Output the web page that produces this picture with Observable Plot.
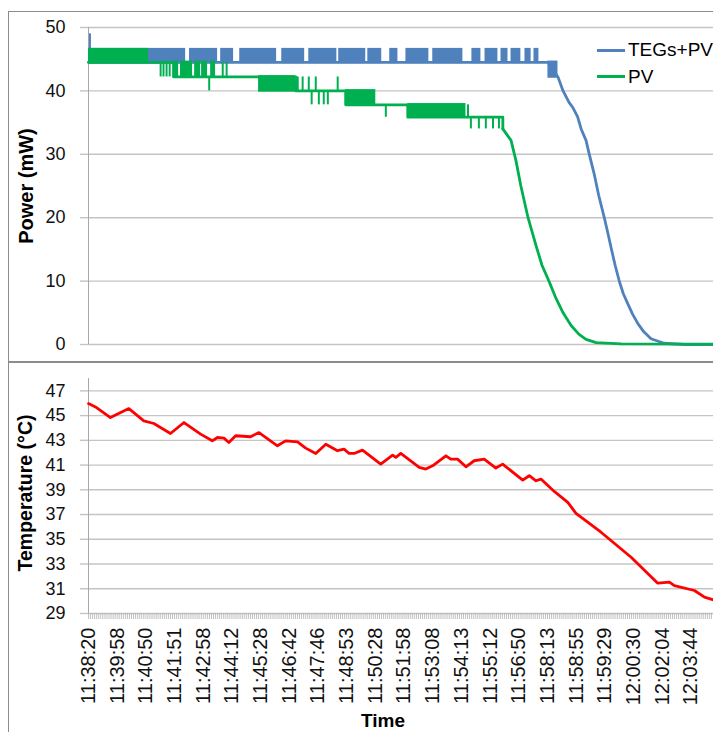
<!DOCTYPE html>
<html><head><meta charset="utf-8">
<script src="https://cdn.jsdelivr.net/npm/d3@7"></script>
<script src="https://cdn.jsdelivr.net/npm/@observablehq/plot@0.6"></script>
<style>
body{margin:0;background:#fff;font-family:"Liberation Sans",Arial,sans-serif;}
#wrap{position:relative;width:713px;height:732px;overflow:hidden;background:#fff;}
#top,#bot{position:absolute;left:0;}
#top{top:0;} #bot{top:362px;}
.frame{position:absolute;left:8px;border:1px solid #8c8c8c;border-right:none;pointer-events:none;}
.title{position:absolute;font-weight:bold;color:#000;white-space:nowrap;line-height:1;}
.rot{transform:translate(-50%,-50%) rotate(-90deg);}
.leg{position:absolute;font-size:19px;color:#000;white-space:nowrap;}
.legline{position:absolute;height:3px;width:28px;}
</style></head>
<body><div id="wrap">
<div id="top"></div><div id="bot"></div>
<div class="frame" style="top:11px;width:720px;height:350px;"></div>
<div class="frame" style="top:361px;width:720px;height:380px;border-bottom:none;"></div>
<div class="title rot" style="left:26px;top:186px;font-size:20px;">Power (mW)</div>
<div class="title rot" style="left:26px;top:493px;font-size:19.5px;">Temperature (°C)</div>
<div class="title" style="left:383px;top:720px;transform:translate(-50%,-50%);font-size:19px;">Time</div>
<div class="legline" style="left:597px;top:48.5px;background:#4F81BD;"></div>
<div class="leg" style="left:628px;top:39px;">TEGs+PV</div>
<div class="legline" style="left:597px;top:75px;background:#00B050;"></div>
<div class="leg" style="left:628px;top:65.5px;">PV</div>
</div>
<script>
// ---- category axis (sample index) ----
const nCat = 306;
const labelStep = 14;
const timeLabels = ["11:38:20","11:39:58","11:40:50","11:41:51","11:42:58","11:44:12","11:45:28","11:46:42","11:47:46","11:48:53","11:50:28","11:51:58","11:53:08","11:54:13","11:55:12","11:56:50","11:58:13","11:58:55","11:59:29","12:00:30","12:02:04","12:03:44"];
const powerTicks = [0,10,20,30,40,50];
const tempTicks = [29,31,33,35,37,39,41,43,45,47];

// ---- TEGs+PV (blue) ----
const blueIdx = [0, 224.2, 229.1, 231.6, 234.5, 236.5, 238.7, 240.4, 242.8, 244.3, 246.7, 249, 251.7, 253.5, 255, 257, 259.1, 261, 263.2, 265.5, 268.1, 271, 274.5, 280.9, 290.8, 305];
const blueVal = [44.5, 44.5, 42.2, 40.0, 38.2, 37.3, 35.9, 34.0, 32.2, 30.1, 27.0, 23.5, 20.0, 17.5, 15.3, 12.5, 9.9, 8.0, 6.4, 4.8, 3.3, 2.0, 0.9, 0.2, 0.0, 0.0];
// fast-oscillation stretches: [fromIdx, toIdx, low, high]
const blueBands = [[0,47.4,44.5,46.5],[49.3,63,44.5,46.5],[64.5,70.8,44.5,46.5],[73.8,91.8,44.5,46.5],[94.3,105.5,44.5,46.5],[107.5,121.2,44.5,46.5],[122.1,135.3,44.5,46.5],[136.3,143.1,44.5,46.5],[147,151,44.5,46.5],[154.9,166.1,44.5,46.5],[168,182.7,44.5,46.5],[187.1,191.5,44.5,46.5],[193.5,199.8,44.5,46.5],[201.3,204.7,44.5,46.5],[206.2,211,44.5,46.5],[213,216,44.5,46.5],[217.4,219.8,44.5,46.5],[224.2,229.1,42.2,44.5]];
// isolated spikes: [idx, from, to]
const blueSpikes = [[0.7,46.5,49.0]];

// ---- PV (green) ----
const greenFlatIdx = [0, 41.5, 101.1, 125.5, 155.8, 202.2];
const greenFlatVal = [44.5, 42.2, 40.0, 37.8, 35.85, 34.0];
const greenDropIdx = [202.2, 206.2, 208.6, 211, 214.5, 218.4, 221.3, 224.7, 228.1, 231.6, 235.5, 239.4, 242.8, 247.7, 259.9, 305];
const greenDropVal = [34.0, 32.2, 29.0, 25.0, 20.0, 15.6, 12.5, 10.0, 7.3, 5.0, 3.0, 1.6, 0.8, 0.3, 0.1, 0.05];
const greenBands = [[0,29.3,44.5,46.5],[41.5,44,42.2,44.5],[44.9,50.8,42.2,44.5],[51.8,54.7,42.2,44.5],[55.2,58.1,42.2,44.5],[59.6,62,42.2,44.5],[83,101.1,40.0,42.2],[125.5,140.2,37.8,40.0],[155.8,184.2,35.85,37.8]];
const greenSpikes = [[35.2,44.5,42.2],[36.6,44.5,42.2],[38.1,44.5,42.2],[39.6,44.5,42.2],[58.9,42.2,40.0],[65.5,42.2,44.5],[67.4,42.2,44.5],[102.1,40,42.2],[104.5,40,42.2],[107.5,40,42.2],[110.9,40,42.2],[121.6,40,42.2],[108.9,40,37.8],[112.4,40,37.8],[114.8,40,37.8],[116.8,40,37.8],[139.2,37.8,40],[145.1,37.8,35.85],[185.2,35.85,37.8],[186.6,35.85,34.0],[190.5,35.85,34.0],[193.9,35.85,34.0],[197.4,35.85,34.0],[200.3,35.85,34.0]];

// ---- Temperature (red) ----
const tempIdx = [0, 3.4, 10.7, 19.7, 27, 31.9, 40, 46.6, 54.7, 60.4, 62.9, 66.1, 68.5, 71.8, 79.1, 83.2, 92.2, 96.2, 102, 106, 110.9, 115.8, 121.5, 124.7, 127.2, 129.6, 133.7, 142.6, 148.4, 150, 152.4, 161.4, 164.6, 167.9, 174.4, 176.8, 180.1, 184.2, 188.2, 193.1, 198.8, 202.1, 211.9, 215.1, 218.4, 220.8, 227.3, 233.9, 237.9, 250.1, 264.8, 277.8, 283.5, 285.9, 295.7, 300.6, 305];
const tempVal = [45.97, 45.7, 44.84, 45.57, 44.58, 44.36, 43.55, 44.44, 43.5, 42.96, 43.23, 43.18, 42.83, 43.37, 43.29, 43.63, 42.56, 42.96, 42.88, 42.37, 41.94, 42.69, 42.16, 42.29, 41.94, 41.94, 42.21, 41.08, 41.81, 41.62, 41.94, 40.81, 40.68, 40.94, 41.75, 41.48, 41.48, 40.86, 41.35, 41.48, 40.76, 41.08, 39.79, 40.14, 39.73, 39.87, 38.87, 37.98, 37.1, 35.57, 33.55, 31.45, 31.53, 31.26, 30.86, 30.32, 30.1];

const BLUE = "#4F81BD", GREEN = "#00B050", RED = "#FF0000", GRID = "#c4c4c4", AXIS = "#a8a8a8";
const zip = (xs, ys) => xs.map((x, i) => ({x, y: ys[i]}));
const font = '"Liberation Sans", Arial, sans-serif';

const bandOpts = c => ({x1: d => d[0], x2: d => d[1], y1: d => d[2], y2: d => d[3], fill: c, insetTop: -1.3, insetBottom: -1.3});
const spikeOpts = c => ({x: d => d[0], y1: d => d[1], y2: d => d[2], stroke: c, strokeWidth: 2});

const topChart = Plot.plot({
  width: 713, height: 362,
  marginLeft: 88, marginRight: 0, marginTop: 27, marginBottom: 18,
  style: {background: "transparent", fontFamily: font, overflow: "visible", color: "#000"},
  x: {domain: [0, nCat - 1], axis: null},
  y: {domain: [0, 50], axis: null},
  marks: [
    Plot.gridY(powerTicks, {stroke: GRID, strokeOpacity: 1, strokeWidth: 1.4}),
    Plot.axisY(powerTicks, {tickSize: 8, tickPadding: 15, stroke: GRID, strokeWidth: 1.4, fill: "#111", fontSize: 18, label: null}),
    Plot.ruleX([0], {stroke: AXIS}),
    Plot.rect(blueBands, bandOpts(BLUE)),
    Plot.ruleX(blueSpikes, spikeOpts(BLUE)),
    Plot.line(zip(blueIdx, blueVal), {x: "x", y: "y", stroke: BLUE, strokeWidth: 2.8}),
    Plot.rect(greenBands, bandOpts(GREEN)),
    Plot.ruleX(greenSpikes, spikeOpts(GREEN)),
    Plot.line(zip(greenFlatIdx, greenFlatVal), {x: "x", y: "y", curve: "step-after", stroke: GREEN, strokeWidth: 2.8}),
    Plot.line(zip(greenDropIdx, greenDropVal), {x: "x", y: "y", stroke: GREEN, strokeWidth: 2.8})
  ]
});
document.getElementById("top").appendChild(topChart);

const labelIdx = timeLabels.map((_, k) => k * labelStep);
const botChart = Plot.plot({
  width: 713, height: 370,
  marginLeft: 88, marginRight: 0, marginTop: 16, marginBottom: 119,
  style: {background: "transparent", fontFamily: font, overflow: "visible", color: "#000"},
  x: {domain: [0, nCat - 1], axis: null},
  y: {domain: [29, 48], axis: null},
  marks: [
    Plot.gridY(tempTicks, {stroke: GRID, strokeOpacity: 1, strokeWidth: 1.4}),
    Plot.axisY(tempTicks, {tickSize: 8, tickPadding: 15, stroke: GRID, strokeWidth: 1.4, fill: "#111", fontSize: 18, label: null}),
    Plot.ruleX([0], {stroke: AXIS}),
    Plot.axisX(d3.range(nCat), {tickSize: 6, stroke: "#b0b0b0", strokeWidth: 0.8, tickFormat: () => "", label: null}),
    Plot.axisX(labelIdx, {tickSize: 0, tickPadding: 14, tickRotate: -90, tickFormat: i => timeLabels[i / labelStep], fill: "#111", fontSize: 20, label: null}),
    Plot.line(zip(tempIdx, tempVal), {x: "x", y: "y", stroke: RED, strokeWidth: 2.8})
  ]
});
document.getElementById("bot").appendChild(botChart);
</script>
</body></html>
